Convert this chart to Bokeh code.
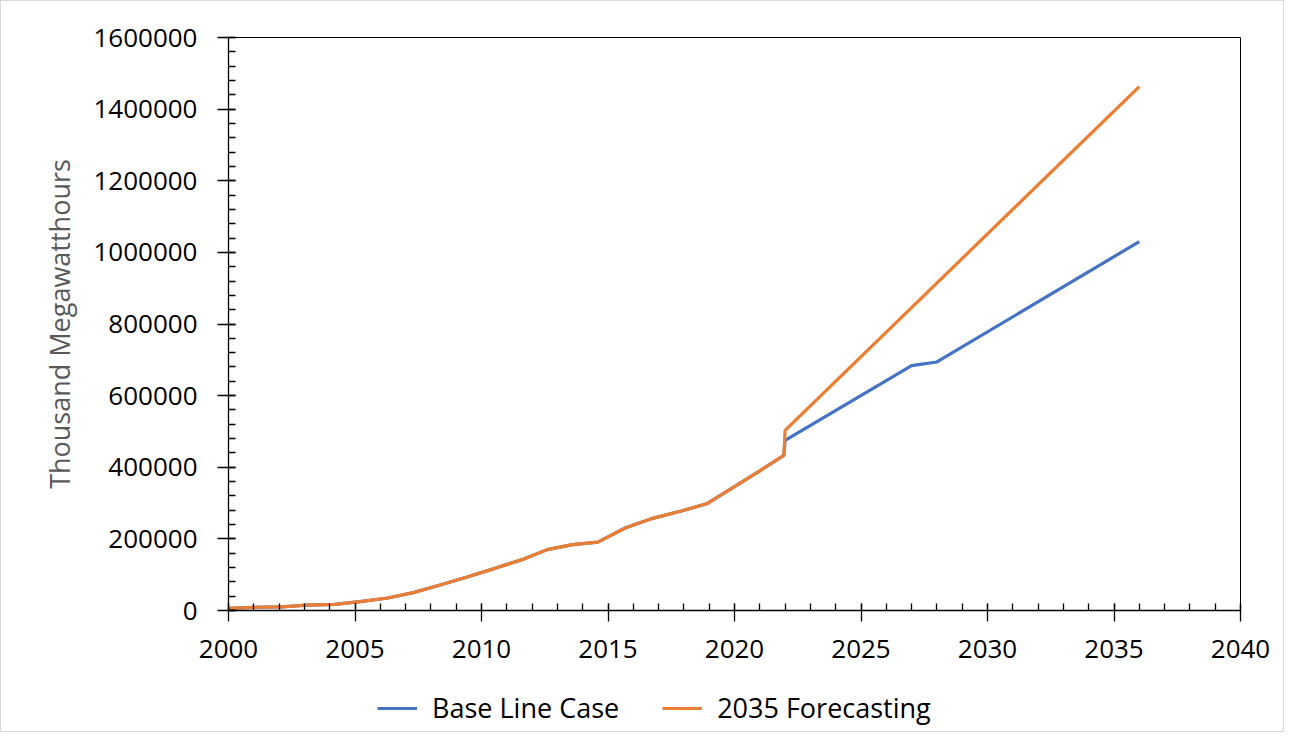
from bokeh.plotting import figure
from bokeh.models import (Range1d, FixedTicker, NumeralTickFormatter, Legend, LegendItem)
from bokeh.layouts import column
from bokeh.embed import file_html
from bokeh.resources import INLINE

# ---- data ----
hist_x = [2000.0, 2001.0, 2002.1, 2003.1, 2004.2, 2005.2, 2006.3, 2007.3, 2008.3,
          2009.4, 2010.5, 2011.6, 2012.6, 2013.6, 2014.6, 2015.7, 2016.8, 2017.9,
          2018.9, 2020.0, 2021.0, 2021.95]
hist_y = [6000, 9000, 10000, 15000, 17000, 25000, 35000, 50000, 70000,
          93000, 117000, 142000, 170000, 184000, 191000, 231000, 258000, 278000,
          298000, 346000, 390000, 433000]

base_future_x = [2022.0, 2027.0, 2028.0, 2036.0]
base_future_y = [475000, 684000, 694000, 1030000]

fc_future_x = [2022.0, 2036.0]
fc_future_y = [503000, 1463000]

base_x = hist_x + base_future_x
base_y = hist_y + base_future_y
fc_x = hist_x + fc_future_x
fc_y = hist_y + fc_future_y

series_names = ["Base Line Case", "2035 Forecasting"]
y_label = "Thousand Megawatthours"
x_major = list(range(2000, 2041, 5))
x_minor = list(range(2000, 2041, 1))
y_major = list(range(0, 1600001, 200000))
y_minor = list(range(0, 1600001, 40000))

BLUE = "#4472C4"
ORANGE = "#ED7D31"
FONT = "Open Sans"
FS = "26px"

W = 1282
H1 = 675
H2 = 55

p = figure(width=W, height=H1, output_backend="svg", toolbar_location=None,
           x_range=Range1d(2000, 2040), y_range=Range1d(0, 1600000),
           min_border_left=227, min_border_right=43, min_border_top=36,
           min_border_bottom=H1 - 609)
p.xgrid.visible = False
p.ygrid.visible = False
p.outline_line_color = "black"
p.outline_line_width = 1
p.background_fill_color = "white"
p.border_fill_color = "white"

p.line(base_x, base_y, line_color=BLUE, line_width=3.2)
p.line(fc_x, fc_y, line_color=ORANGE, line_width=3.2)

for ax in (p.xaxis[0], p.yaxis[0]):
    ax.axis_line_color = "black"
    ax.axis_line_width = 1.3
    ax.major_tick_line_color = "black"
    ax.minor_tick_line_color = "black"
    ax.major_tick_line_width = 1.3
    ax.minor_tick_line_width = 1.3
    ax.major_tick_in = 7
    ax.major_tick_out = 11
    ax.minor_tick_in = 7
    ax.minor_tick_out = 0
    ax.major_label_text_font = FONT
    ax.major_label_text_font_size = FS
    ax.major_label_text_color = "black"

p.xaxis[0].major_label_standoff = 18
p.yaxis[0].major_label_standoff = 20

p.xaxis[0].ticker = FixedTicker(ticks=x_major, minor_ticks=x_minor)
p.yaxis[0].ticker = FixedTicker(ticks=y_major, minor_ticks=y_minor)
p.yaxis[0].formatter = NumeralTickFormatter(format="0")
p.yaxis[0].axis_label = y_label
p.yaxis[0].axis_label_text_font = FONT
p.yaxis[0].axis_label_text_font_size = "27px"
p.yaxis[0].axis_label_text_font_style = "normal"
p.yaxis[0].axis_label_text_color = "#595959"
p.yaxis[0].axis_label_standoff = 12

# ---- legend strip below the chart ----
q = figure(width=W, height=H2, output_backend="svg", toolbar_location=None,
           x_range=Range1d(0, 1), y_range=Range1d(0, 1),
           x_axis_location=None, y_axis_location=None,
           min_border_left=0, min_border_right=0, min_border_top=0, min_border_bottom=0)
q.xgrid.visible = False
q.ygrid.visible = False
q.outline_line_color = None
q.background_fill_color = "white"
q.border_fill_color = "white"
# legend proxies drawn outside the visible range of the strip
l1 = q.line([-5, -4], [-5, -4], line_color=BLUE, line_width=3.2)
l2 = q.line([-5, -4], [-5, -4], line_color=ORANGE, line_width=3.2)

legend = Legend(items=[LegendItem(label=series_names[0], renderers=[l1]),
                       LegendItem(label=series_names[1], renderers=[l2])],
                orientation="horizontal", location=(149, 5),
                padding=0, margin=0, spacing=43, label_standoff=15,
                glyph_width=40, glyph_height=30,
                label_text_font=FONT, label_text_font_size="27px",
                label_text_color="black",
                border_line_alpha=0, background_fill_alpha=0)
q.add_layout(legend, "center")

lay = column(p, q, spacing=0)
lay.styles = {"border": "1px solid #d9d9d9", "background-color": "white"}

open("out.html", "w").write(file_html(lay, INLINE))
